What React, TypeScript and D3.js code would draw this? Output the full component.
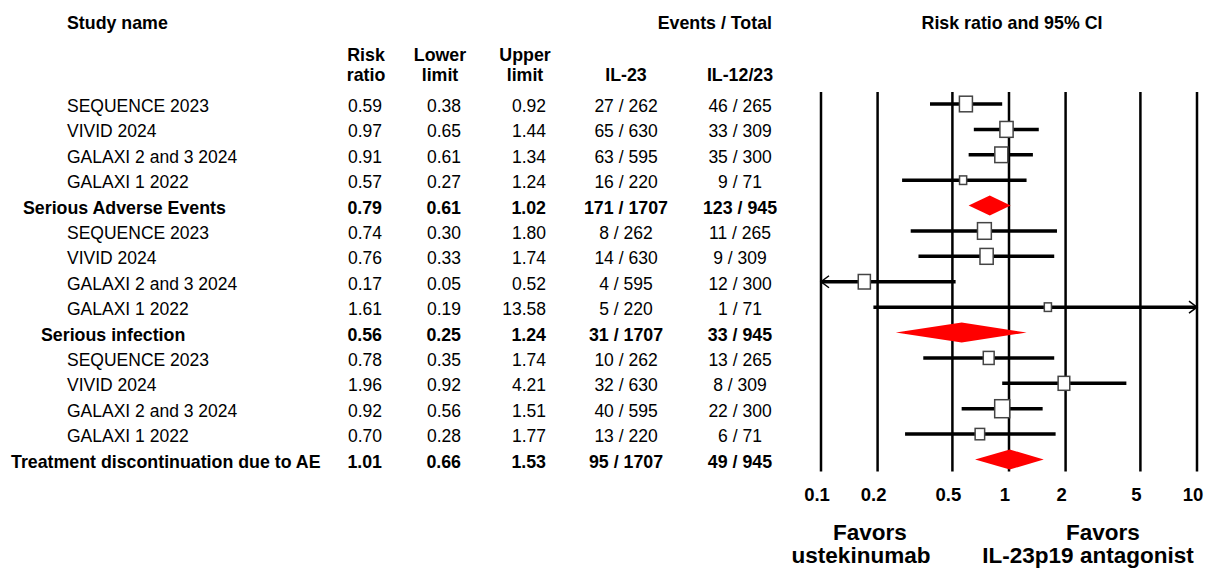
import React from 'react';
import * as d3 from 'd3';

// rows, top to bottom
const studyNames = [
  'SEQUENCE 2023', 'VIVID 2024', 'GALAXI 2 and 3 2024', 'GALAXI 1 2022', 'Serious Adverse Events',
  'SEQUENCE 2023', 'VIVID 2024', 'GALAXI 2 and 3 2024', 'GALAXI 1 2022', 'Serious infection',
  'SEQUENCE 2023', 'VIVID 2024', 'GALAXI 2 and 3 2024', 'GALAXI 1 2022', 'Treatment discontinuation due to AE',
];
const isSummary = [false, false, false, false, true, false, false, false, false, true, false, false, false, false, true];
const riskRatio = [0.59, 0.97, 0.91, 0.57, 0.79, 0.74, 0.76, 0.17, 1.61, 0.56, 0.78, 1.96, 0.92, 0.70, 1.01];
const lowerLimit = [0.38, 0.65, 0.61, 0.27, 0.61, 0.30, 0.33, 0.05, 0.19, 0.25, 0.35, 0.92, 0.56, 0.28, 0.66];
const upperLimit = [0.92, 1.44, 1.34, 1.24, 1.02, 1.80, 1.74, 0.52, 13.58, 1.24, 1.74, 4.21, 1.51, 1.77, 1.53];
const il23Events = [27, 65, 63, 16, 171, 8, 14, 4, 5, 31, 10, 32, 40, 13, 95];
const il23Total = [262, 630, 595, 220, 1707, 262, 630, 595, 220, 1707, 262, 630, 595, 220, 1707];
const il1223Events = [46, 33, 35, 9, 123, 11, 9, 12, 1, 33, 13, 8, 22, 6, 49];
const il1223Total = [265, 309, 300, 71, 945, 265, 309, 300, 71, 945, 265, 309, 300, 71, 945];
// relative study weights (%) within each subgroup, 0 for summary rows
const weights = [30, 31, 30, 9, 0, 34, 31, 26, 9, 0, 21, 24, 40, 16, 0];
const axisTicks = [0.1, 0.2, 0.5, 1, 2, 5, 10];

const W = 1227;
const H = 569;
const FONT = '"Liberation Sans", Arial, sans-serif';
const FS = 17.5;

// summary label x positions (they are not indented the same way)
const summaryX: Record<string, number> = {
  'Serious Adverse Events': 23,
  'Serious infection': 41,
  'Treatment discontinuation due to AE': 11,
};

const App: React.FC = () => {
  const x = d3.scaleLog().domain([0.1, 10]).range([821, 1197]);
  const y = d3.scaleLinear().domain([0, studyNames.length - 1]).range([104, 459.5]);
  const boxSize = d3.scaleSqrt().domain([0, 30]).range([0, 13]);

  const fmt = d3.format('.2f');
  const gridTop = y(0) - 12;
  const gridBottom = y(studyNames.length - 1) + 12;

  const cols = { rr: 382, lo: 461, up: 546, il23: 626, il1223: 740 };

  return (
    <svg width={W} height={H} style={{ position: 'absolute', left: 0, top: 0, background: '#fff' }}
      fontFamily={FONT} fontSize={FS}>
      {/* headers */}
      <g fontWeight="bold" fill="#000" fontSize={17.8}>
        <text x={67} y={29}>Study name</text>
        <text x={772} y={29} textAnchor="end">Events / Total</text>
        <text x={1012} y={29} textAnchor="middle">Risk ratio and 95% CI</text>
        <text x={366} y={61} textAnchor="middle">Risk</text>
        <text x={366} y={81} textAnchor="middle">ratio</text>
        <text x={440} y={61} textAnchor="middle">Lower</text>
        <text x={440} y={81} textAnchor="middle">limit</text>
        <text x={525} y={61} textAnchor="middle">Upper</text>
        <text x={525} y={81} textAnchor="middle">limit</text>
        <text x={cols.il23} y={81} textAnchor="middle">IL-23</text>
        <text x={cols.il1223} y={81} textAnchor="middle">IL-12/23</text>
      </g>

      {/* table */}
      {studyNames.map((name, i) => {
        const ty = y(i) + 8;
        const bold = isSummary[i] ? 'bold' : 'normal';
        return (
          <g key={'row' + i} fontWeight={bold} fontSize={isSummary[i] ? 17.8 : FS}>
            <text x={isSummary[i] ? summaryX[name] : 67} y={ty}>{name}</text>
            <text x={cols.rr} y={ty} textAnchor="end">{fmt(riskRatio[i])}</text>
            <text x={cols.lo} y={ty} textAnchor="end">{fmt(lowerLimit[i])}</text>
            <text x={cols.up} y={ty} textAnchor="end">{fmt(upperLimit[i])}</text>
            <text x={cols.il23} y={ty} textAnchor="middle">{`${il23Events[i]} / ${il23Total[i]}`}</text>
            <text x={cols.il1223} y={ty} textAnchor="middle">{`${il1223Events[i]} / ${il1223Total[i]}`}</text>
          </g>
        );
      })}

      {/* grid lines */}
      {axisTicks.map((t) => (
        <line key={'g' + t} x1={x(t)} x2={x(t)} y1={gridTop} y2={gridBottom} stroke="#000" strokeWidth={2.5} />
      ))}

      {/* CIs, boxes and diamonds */}
      {studyNames.map((_, i) => {
        const cy = y(i);
        if (isSummary[i]) {
          const pts = [
            [x(lowerLimit[i]), cy],
            [x(riskRatio[i]), cy - 10],
            [x(upperLimit[i]), cy],
            [x(riskRatio[i]), cy + 10],
          ];
          return <polygon key={'d' + i} points={pts.map((p) => p.join(',')).join(' ')} fill="#ff0000" />;
        }
        const lo = Math.max(lowerLimit[i], 0.1);
        const hi = Math.min(upperLimit[i], 10);
        const bw = boxSize(weights[i]);
        const bh = bw * 1.2;
        return (
          <g key={'s' + i}>
            <line x1={x(lo)} x2={x(hi)} y1={cy} y2={cy} stroke="#000" strokeWidth={3.5} />
            {lowerLimit[i] < 0.1 && (
              <path d={`M${x(0.1) + 8},${cy - 6}L${x(0.1)},${cy}L${x(0.1) + 8},${cy + 6}`}
                fill="none" stroke="#000" strokeWidth={1.5} />
            )}
            {upperLimit[i] > 10 && (
              <path d={`M${x(10) - 8},${cy - 6}L${x(10)},${cy}L${x(10) - 8},${cy + 6}`}
                fill="none" stroke="#000" strokeWidth={1.5} />
            )}
            <rect x={x(riskRatio[i]) - bw / 2} y={cy - bh / 2} width={bw} height={bh}
              fill="#fff" stroke="#444" strokeWidth={1.5} />
          </g>
        );
      })}

      {/* axis labels */}
      <g fontWeight="bold" fontSize={18.5} textAnchor="middle">
        {axisTicks.map((t) => (
          <text key={'t' + t} x={x(t) - 4} y={501}>{String(t)}</text>
        ))}
      </g>

      <g fontWeight="bold" fontSize={22.5} textAnchor="middle">
        <text x={870} y={540}>Favors</text>
        <text x={861} y={563}>ustekinumab</text>
        <text x={1103} y={540}>Favors</text>
        <text x={1088} y={563}>IL-23p19 antagonist</text>
      </g>
    </svg>
  );
};

export default App;
